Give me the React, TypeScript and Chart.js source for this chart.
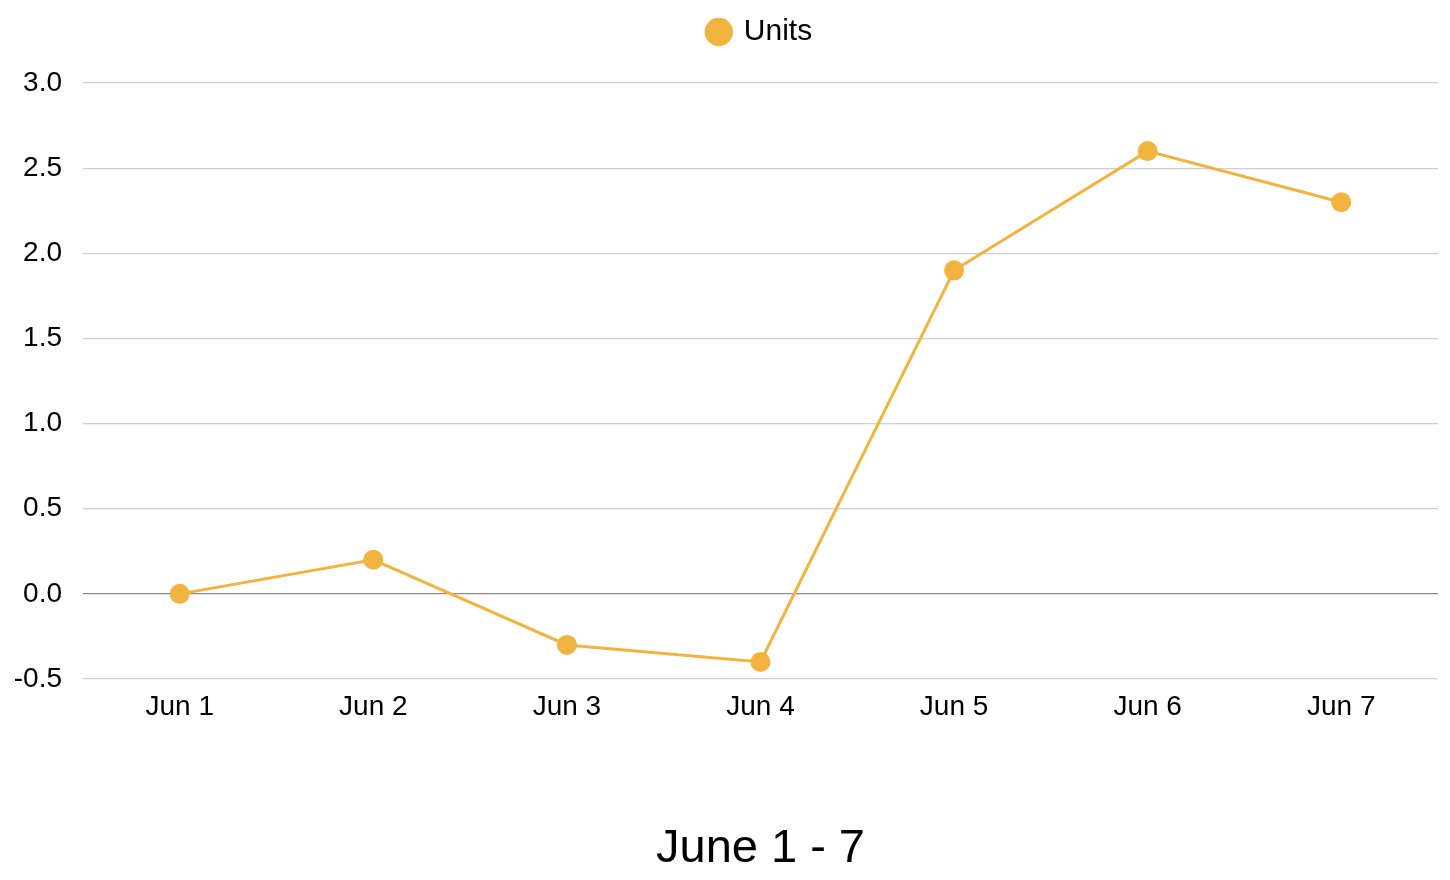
import React, { useEffect, useRef } from "react";
import { Chart, registerables } from "chart.js";

Chart.register(...registerables);

const categories: string[] = ["Jun 1", "Jun 2", "Jun 3", "Jun 4", "Jun 5", "Jun 6", "Jun 7"];
const unitsValues: number[] = [0, 0.2, -0.3, -0.4, 1.9, 2.6, 2.3];
const seriesLabel = "Units";
const chartTitle = "June 1 - 7";
const yMin = -0.5;
const yMax = 3.0;
const yStep = 0.5;

const FONT = "'Liberation Sans', Arial, sans-serif";
const LINE_COLOR = "#F2B43E";

const layoutTweaks = {
  id: "layoutTweaks",
  beforeInit(chart: any) {
    const legend = chart.legend;
    if (!legend) return;
    const origFit = legend.fit;
    legend.fit = function () {
      origFit.call(this);
      this.height += 26;
    };
  },
  beforeDraw(chart: any) {
    const { left, right } = chart.chartArea;
    for (const box of [chart.legend, chart.titleBlock]) {
      if (box) {
        box.left = left;
        box.right = right;
        box.width = right - left;
      }
    }
  },
};

export default function App() {
  const canvasRef = useRef<HTMLCanvasElement | null>(null);

  useEffect(() => {
    const canvas = canvasRef.current;
    if (!canvas) return;
    const chart = new Chart(canvas, {
      type: "line",
      data: {
        labels: categories,
        datasets: [
          {
            label: seriesLabel,
            data: unitsValues,
            borderColor: LINE_COLOR,
            backgroundColor: LINE_COLOR,
            borderWidth: 3,
            pointRadius: 10,
            pointBorderWidth: 0,
            pointBackgroundColor: LINE_COLOR,
            pointStyle: "circle",
            tension: 0,
            fill: false,
          },
        ],
      },
      plugins: [layoutTweaks],
      options: {
        animation: false,
        responsive: false,
        maintainAspectRatio: false,
        layout: { padding: { left: 0, right: 12, top: 0, bottom: 3 } },
        plugins: {
          legend: {
            display: true,
            position: "top",
            labels: {
              usePointStyle: true,
              pointStyle: "circle",
              boxWidth: 20,
              boxHeight: 20,
              padding: 17,
              color: "#000",
              font: { family: FONT, size: 30 },
            },
          },
          title: {
            display: true,
            position: "bottom",
            text: chartTitle,
            color: "#000",
            font: { family: FONT, size: 47, weight: "normal" },
            padding: { top: 86, bottom: 0 },
          },
          tooltip: { enabled: false },
        },
        scales: {
          x: {
            offset: true,
            grid: { display: false, drawTicks: false, offset: true },
            border: { display: false },
            ticks: {
              color: "#000",
              font: { family: FONT, size: 28 },
              padding: 11,
              maxRotation: 0,
            },
          },
          y: {
            min: yMin,
            max: yMax,
            afterFit: (scale: any) => {
              scale.width = 83;
            },
            grid: {
              drawTicks: false,
              color: (ctx: any) => (ctx.tick && ctx.tick.value === 0 ? "#8c8c8c" : "#cfcfcf"),
              lineWidth: 1.2,
            },
            border: { display: false },
            ticks: {
              stepSize: yStep,
              color: "#000",
              font: { family: FONT, size: 28 },
              padding: 21,
              callback: (v: any) => Number(v).toFixed(1),
            },
          },
        },
      },
    });
    return () => chart.destroy();
  }, []);

  return (
    <div style={{ position: "absolute", left: 0, top: 0, width: 1450, height: 880, background: "#fff" }}>
      <canvas ref={canvasRef} width={1450} height={880} style={{ width: 1450, height: 880 }} />
    </div>
  );
}
